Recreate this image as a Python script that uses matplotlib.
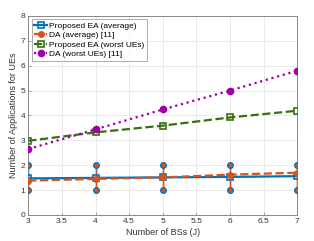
import matplotlib.pyplot as plt
import numpy as np

# Number of BSs
bs = [3, 4, 5, 6, 7]
ea_avg = [1.47, 1.49, 1.51, 1.53, 1.56]
da_avg = [1.38, 1.45, 1.51, 1.62, 1.70]
ea_worst = [2.98, 3.32, 3.59, 3.92, 4.19]
da_worst = [2.65, 3.44, 4.24, 5.0, 5.8]
# min / max applications per UE (error bar ends)
app_min = [1, 1, 1, 1, 1]
app_max = [2, 2, 2, 2, 2]

blue = '#0072BD'
orange = '#D95319'
green = '#3B6E10'
purple = '#A000A8'

plt.rcParams['font.family'] = ['Liberation Sans', 'DejaVu Sans']
fig, ax = plt.subplots(figsize=(3.14, 2.41), dpi=100)
fig.subplots_adjust(left=0.09, right=0.947, top=0.934, bottom=0.108)

# error bars (range of applications)
for y in [ea_avg, da_avg]:
    lo = np.array(y) - np.array(app_min)
    hi = np.array(app_max) - np.array(y)
    ax.errorbar(bs, y, yerr=[lo, hi], fmt='none', ecolor=orange, elinewidth=1.0, zorder=2)
ax.plot(bs + bs, app_min + app_max, 'o', color=orange, markeredgecolor=blue,
        markersize=4, markeredgewidth=1.0, linestyle='none', zorder=3)

ax.plot(bs, ea_avg, '-s', color=blue, lw=1.6, markersize=4, markerfacecolor='none',
        markeredgewidth=1.2, label='Proposed EA (average)', zorder=4)
ax.plot(bs, da_avg, '--o', color=orange, lw=1.6, markersize=4, label='DA (average) [11]', zorder=4)
ax.plot(bs, ea_worst, '--s', color=green, lw=1.6, markersize=4, markerfacecolor='none',
        markeredgewidth=1.2, label='Proposed EA (worst UEs)', zorder=4)
ax.plot(bs, da_worst, ':o', color=purple, lw=1.6, markersize=4.5, label='DA (worst UEs) [11]', zorder=4)

ax.set_xlim(3, 7)
ax.set_ylim(0, 8)
ax.set_xticks([3, 3.5, 4, 4.5, 5, 5.5, 6, 6.5, 7])
ax.set_xticklabels(['3', '3.5', '4', '4.5', '5', '5.5', '6', '6.5', '7'])
ax.set_yticks(range(0, 9))
ax.grid(True, color='#e6e6e6', lw=0.6)
ax.set_axisbelow(True)
for s in ax.spines.values():
    s.set_color('#888888')
    s.set_linewidth(0.7)
ax.tick_params(labelsize=6, colors='#888888', labelcolor='#333333', length=2, width=0.5,
               direction='in', pad=2)
ax.set_xlabel('Number of BSs (J)', fontsize=6.5, color='#333333', labelpad=2)
ax.set_ylabel('Number of Applications for UEs', fontsize=6.5, color='#333333', labelpad=2)
leg = ax.legend(loc='upper left', fontsize=6, frameon=True, fancybox=False,
                edgecolor='#888888', borderpad=0.3, labelspacing=0.2,
                handlelength=1.6, handletextpad=0.2, borderaxespad=0.4)
leg.get_frame().set_linewidth(0.6)

plt.savefig('out.png', dpi=100)
